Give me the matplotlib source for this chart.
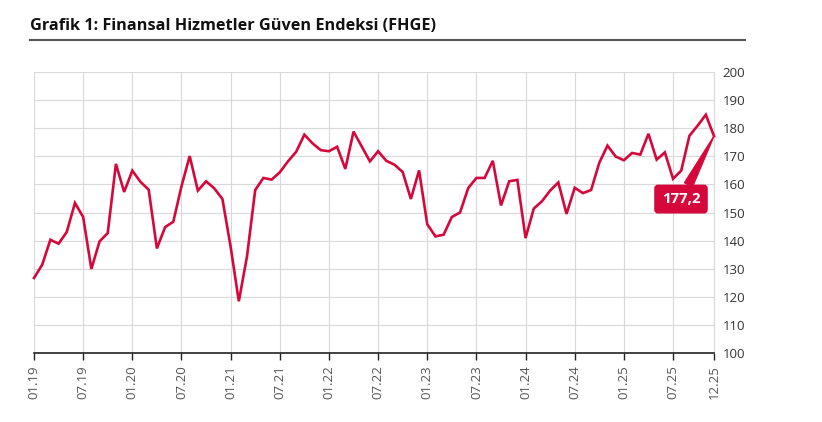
import numpy as np
import matplotlib.pyplot as plt
from matplotlib.lines import Line2D

# FHGE monthly values, 01.2019 - 12.2025
values = [
    126.7, 131.4, 140.3, 138.9, 143.1, 153.4, 148.4, 129.9, 139.7, 142.7, 167.3, 157.3,
    164.9, 160.9, 158.1, 137.2, 144.8, 146.7, 159.3, 170.1, 157.8, 161.1, 158.6, 154.8,
    137.8, 118.4, 134.4, 158.0, 162.3, 161.7, 164.3, 168.2, 171.6, 177.7, 174.6, 172.2,
    171.8, 173.4, 165.5, 178.8, 173.5, 168.2, 171.8, 168.4, 167.0, 164.4, 154.8, 165.0,
    145.8, 141.5, 142.1, 148.4, 150.0, 158.7, 162.3, 162.3, 168.4, 152.5, 161.1, 161.6,
    140.9, 151.4, 154.0, 157.8, 160.7, 149.5, 158.8, 156.9, 158.0, 167.7, 173.8, 169.9,
    168.6, 171.2, 170.6, 178.0, 168.8, 171.4, 162.0, 164.9, 177.3, 180.9, 184.8, 177.2,
]
tick_pos = [0, 6, 12, 18, 24, 30, 36, 42, 48, 54, 60, 66, 72, 78, 83]
tick_labels = ['01.19', '07.19', '01.20', '07.20', '01.21', '07.21', '01.22', '07.22',
               '01.23', '07.23', '01.24', '07.24', '01.25', '07.25', '12.25']
last_label = '177,2'

red = '#d6083b'
plt.rcParams['font.family'] = ['Open Sans', 'DejaVu Sans']

fig = plt.figure(figsize=(8.22, 4.22), dpi=100)
ax = fig.add_axes([34 / 822, 69 / 422, 680 / 822, 281 / 422])

x = np.arange(len(values))
ax.plot(x, values, color=red, lw=1.9, solid_joinstyle='miter', zorder=3, clip_on=False)

ax.set_xlim(0, len(values) - 1)
ax.set_ylim(100, 200)
ax.set_yticks(np.arange(100, 201, 10))
ax.set_xticks(tick_pos)
ax.set_xticklabels(tick_labels, rotation=90)
ax.yaxis.tick_right()
ax.tick_params(axis='y', length=0, pad=6, labelsize=9.5, labelcolor='#333333')
ax.tick_params(axis='x', length=5, width=1, color='#222222', pad=4,
               labelsize=9.5, labelcolor='#555555')
ax.grid(True, color='#d9d9d9', lw=0.8)
ax.set_axisbelow(True)
for s in ['top', 'left']:
    ax.spines[s].set_visible(False)
ax.spines['right'].set_color('#d9d9d9')
ax.spines['bottom'].set_color('#222222')
ax.spines['bottom'].set_linewidth(1.2)

# last value badge
ax.annotate(last_label, xy=(x[-1], values[-1]), xytext=(-33, -63),
            textcoords='offset pixels', ha='center', va='center',
            color='white', fontsize=10.8, fontweight='bold',
            bbox=dict(boxstyle='round,pad=0.45,rounding_size=0.2', fc=red, ec=red),
            arrowprops=dict(arrowstyle='wedge,tail_width=0.6,shrink_factor=0.5',
                            fc=red, ec=red, shrinkA=0, shrinkB=0),
            zorder=5)

fig.text(30 / 822, 1 - 26 / 422, 'Grafik 1: Finansal Hizmetler Güven Endeksi (FHGE)',
         fontsize=11.7, fontweight='bold', color='#111111', va='center', ha='left')
fig.add_artist(Line2D([30 / 822, 745 / 822], [1 - 40 / 422, 1 - 40 / 422],
                      color='#555555', lw=1.5, transform=fig.transFigure))

fig.savefig('out.png', dpi=100)
